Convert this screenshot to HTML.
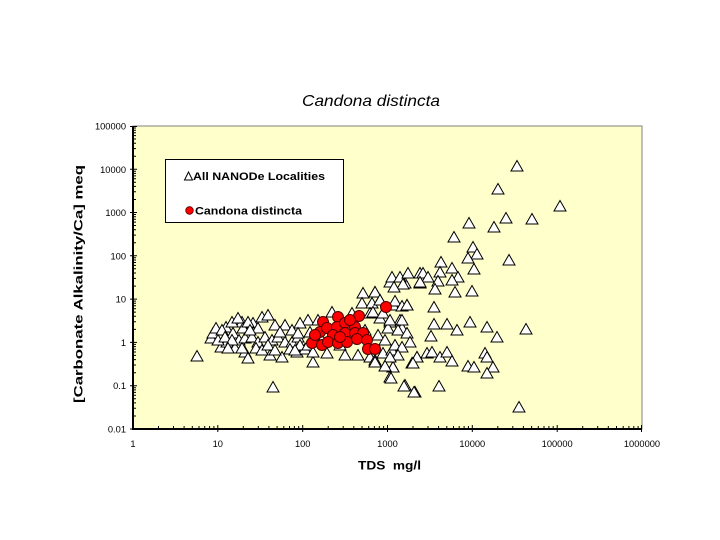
<!DOCTYPE html>
<html><head><meta charset="utf-8"><style>
html,body{margin:0;padding:0;background:#fff;}
svg{display:block;}
text{font-family:"Liberation Sans",Arial,sans-serif;}
</style></head><body>
<svg width="720" height="540" viewBox="0 0 720 540" xmlns="http://www.w3.org/2000/svg">
<defs>
<path id="t" d="M0,-5.5 L6,5 L-6,5 Z" fill="#fff" stroke="#000" stroke-width="1"/>
<circle id="c" r="5.5" fill="#ff0000" stroke="#500000" stroke-width="1"/>
</defs>
<rect x="133" y="126" width="509" height="303" fill="#ffffcc" stroke="#808080" stroke-width="1"/>
<text x="371" y="106" font-size="16" font-style="italic" text-anchor="middle" textLength="138" lengthAdjust="spacingAndGlyphs">Candona distincta</text>

<g>
<use href="#t" x="197" y="356"/><use href="#t" x="211" y="338"/><use href="#t" x="213" y="333"/><use href="#t" x="216" y="328"/>
<use href="#t" x="221" y="347"/><use href="#t" x="226" y="327"/><use href="#t" x="227" y="342"/><use href="#t" x="233" y="333"/>
<use href="#t" x="235" y="348"/><use href="#t" x="242" y="322"/><use href="#t" x="245" y="352"/><use href="#t" x="248" y="358"/>
<use href="#t" x="239" y="340"/><use href="#t" x="262" y="317"/><use href="#t" x="268" y="315"/><use href="#t" x="253" y="323"/>
<use href="#t" x="273" y="387"/><use href="#t" x="270" y="355"/><use href="#t" x="282" y="357"/><use href="#t" x="285" y="325"/>
<use href="#t" x="297" y="352"/><use href="#t" x="308" y="320"/><use href="#t" x="313" y="362"/><use href="#t" x="222" y="330"/>
<use href="#t" x="232" y="322"/><use href="#t" x="238" y="318"/><use href="#t" x="243" y="328"/><use href="#t" x="248" y="322"/>
<use href="#t" x="258" y="328"/><use href="#t" x="275" y="325"/><use href="#t" x="292" y="330"/><use href="#t" x="300" y="323"/>
<use href="#t" x="218" y="340"/><use href="#t" x="225" y="337"/><use href="#t" x="232" y="340"/><use href="#t" x="245" y="338"/>
<use href="#t" x="252" y="337"/><use href="#t" x="258" y="342"/><use href="#t" x="265" y="337"/><use href="#t" x="272" y="340"/>
<use href="#t" x="278" y="337"/><use href="#t" x="285" y="342"/><use href="#t" x="292" y="342"/><use href="#t" x="298" y="337"/>
<use href="#t" x="228" y="348"/><use href="#t" x="242" y="348"/><use href="#t" x="256" y="348"/><use href="#t" x="262" y="350"/>
<use href="#t" x="268" y="345"/><use href="#t" x="275" y="350"/><use href="#t" x="290" y="349"/><use href="#t" x="305" y="349"/>
<use href="#t" x="250" y="330"/><use href="#t" x="280" y="332"/><use href="#t" x="300" y="345"/>

<use href="#t" x="363" y="293"/><use href="#t" x="375" y="292"/><use href="#t" x="390" y="282"/><use href="#t" x="405" y="283"/>
<use href="#t" x="420" y="283"/><use href="#t" x="362" y="303"/><use href="#t" x="372" y="303"/><use href="#t" x="380" y="300"/>
<use href="#t" x="393" y="305"/><use href="#t" x="407" y="305"/><use href="#t" x="318" y="320"/><use href="#t" x="332" y="312"/>
<use href="#t" x="352" y="313"/><use href="#t" x="370" y="313"/><use href="#t" x="380" y="318"/><use href="#t" x="390" y="322"/>
<use href="#t" x="400" y="320"/><use href="#t" x="402" y="328"/><use href="#t" x="298" y="333"/><use href="#t" x="308" y="345"/>
<use href="#t" x="295" y="350"/><use href="#t" x="327" y="353"/><use href="#t" x="340" y="345"/><use href="#t" x="313" y="352"/>
<use href="#t" x="358" y="355"/><use href="#t" x="370" y="357"/><use href="#t" x="375" y="360"/><use href="#t" x="383" y="353"/>
<use href="#t" x="392" y="350"/><use href="#t" x="393" y="367"/><use href="#t" x="390" y="377"/><use href="#t" x="405" y="385"/>
<use href="#t" x="415" y="392"/><use href="#t" x="412" y="363"/><use href="#t" x="417" y="357"/><use href="#t" x="427" y="353"/>
<use href="#t" x="365" y="330"/><use href="#t" x="378" y="335"/><use href="#t" x="385" y="340"/><use href="#t" x="395" y="345"/>
<use href="#t" x="322" y="340"/><use href="#t" x="345" y="355"/><use href="#t" x="310" y="332"/><use href="#t" x="388" y="328"/>

<use href="#t" x="454" y="237"/><use href="#t" x="473" y="247"/><use href="#t" x="477" y="254"/><use href="#t" x="468" y="258"/>
<use href="#t" x="509" y="260"/><use href="#t" x="474" y="269"/><use href="#t" x="441" y="262"/><use href="#t" x="452" y="268"/>
<use href="#t" x="440" y="272"/><use href="#t" x="458" y="277"/><use href="#t" x="452" y="280"/><use href="#t" x="438" y="281"/>
<use href="#t" x="435" y="289"/><use href="#t" x="455" y="292"/><use href="#t" x="472" y="291"/><use href="#t" x="392" y="277"/>
<use href="#t" x="400" y="277"/><use href="#t" x="408" y="273"/><use href="#t" x="420" y="273"/><use href="#t" x="423" y="273"/>
<use href="#t" x="428" y="277"/><use href="#t" x="420" y="282"/><use href="#t" x="403" y="284"/><use href="#t" x="394" y="287"/>
<use href="#t" x="375" y="292"/><use href="#t" x="380" y="300"/><use href="#t" x="395" y="301"/><use href="#t" x="402" y="306"/>
<use href="#t" x="407" y="305"/><use href="#t" x="434" y="307"/><use href="#t" x="373" y="312"/><use href="#t" x="383" y="313"/>
<use href="#t" x="390" y="320"/><use href="#t" x="402" y="320"/><use href="#t" x="434" y="324"/><use href="#t" x="447" y="324"/>
<use href="#t" x="457" y="330"/><use href="#t" x="470" y="322"/><use href="#t" x="487" y="327"/><use href="#t" x="497" y="337"/>
<use href="#t" x="526" y="329"/><use href="#t" x="431" y="336"/><use href="#t" x="432" y="352"/><use href="#t" x="440" y="357"/>
<use href="#t" x="447" y="352"/><use href="#t" x="452" y="361"/><use href="#t" x="468" y="366"/><use href="#t" x="474" y="367"/>
<use href="#t" x="485" y="353"/><use href="#t" x="487" y="357"/><use href="#t" x="493" y="367"/><use href="#t" x="487" y="373"/>
<use href="#t" x="393" y="367"/><use href="#t" x="391" y="378"/><use href="#t" x="404" y="386"/><use href="#t" x="414" y="392"/>
<use href="#t" x="439" y="386"/><use href="#t" x="417" y="357"/><use href="#t" x="413" y="363"/><use href="#t" x="519" y="407"/>
<use href="#t" x="398" y="330"/><use href="#t" x="407" y="333"/><use href="#t" x="410" y="342"/><use href="#t" x="402" y="347"/>
<use href="#t" x="398" y="355"/><use href="#t" x="390" y="357"/><use href="#t" x="375" y="362"/><use href="#t" x="385" y="366"/>

<use href="#t" x="517" y="166"/><use href="#t" x="498" y="189"/><use href="#t" x="560" y="206"/><use href="#t" x="506" y="218"/>
<use href="#t" x="532" y="219"/><use href="#t" x="469" y="223"/><use href="#t" x="494" y="227"/>
</g>

<g>
<use href="#c" x="386" y="307"/><use href="#c" x="312" y="343"/><use href="#c" x="322" y="345"/><use href="#c" x="323" y="322"/>
<use href="#c" x="338" y="317"/><use href="#c" x="359" y="316"/><use href="#c" x="320" y="332"/><use href="#c" x="327" y="328"/>
<use href="#c" x="337" y="327"/><use href="#c" x="345" y="323"/><use href="#c" x="355" y="327"/><use href="#c" x="333" y="335"/>
<use href="#c" x="345" y="333"/><use href="#c" x="355" y="333"/><use href="#c" x="363" y="333"/><use href="#c" x="328" y="342"/>
<use href="#c" x="338" y="343"/><use href="#c" x="347" y="342"/><use href="#c" x="357" y="339"/><use href="#c" x="367" y="340"/>
<use href="#c" x="368" y="349"/><use href="#c" x="375" y="349"/><use href="#c" x="315" y="335"/><use href="#c" x="350" y="320"/>
<use href="#c" x="340" y="337"/>
</g>

<!-- legend -->
<rect x="165.5" y="159.5" width="178" height="63" fill="#fff" stroke="#000" stroke-width="1"/>
<path d="M188.5,172 L192.5,180 L184.5,180 Z" fill="#fff" stroke="#000" stroke-width="1"/>
<text x="193" y="180" font-size="11" font-weight="bold" textLength="132" lengthAdjust="spacingAndGlyphs">All NANODe Localities</text>
<circle cx="189.5" cy="210.5" r="3.8" fill="#ff0000" stroke="#500000" stroke-width="0.8"/>
<text x="195" y="214.5" font-size="11" font-weight="bold" textLength="107" lengthAdjust="spacingAndGlyphs">Candona distincta</text>

<!-- axes -->
<line x1="133" y1="126" x2="133" y2="430" stroke="#000" stroke-width="2"/>
<line x1="132" y1="429" x2="642" y2="429" stroke="#000" stroke-width="2"/>
<path stroke="#000" stroke-width="1" fill="none" d="
M130,429h7 M130,385.7h7 M130,342.4h7 M130,299.1h7 M130,255.8h7 M130,212.5h7 M130,169.3h7 M130,126.5h7
M133,416h3 M133,408.3h3 M133,402.9h3 M133,398.7h3 M133,395.3h3 M133,392.4h3 M133,389.9h3 M133,387.7h3
M133,372.7h3 M133,365h3 M133,359.6h3 M133,355.4h3 M133,352h3 M133,349.1h3 M133,346.6h3 M133,344.4h3
M133,329.4h3 M133,321.7h3 M133,316.3h3 M133,312.1h3 M133,308.7h3 M133,305.8h3 M133,303.3h3 M133,301.1h3
M133,286.1h3 M133,278.4h3 M133,273h3 M133,268.8h3 M133,265.4h3 M133,262.5h3 M133,260h3 M133,257.8h3
M133,242.8h3 M133,235.1h3 M133,229.7h3 M133,225.5h3 M133,222.1h3 M133,219.2h3 M133,216.7h3 M133,214.5h3
M133,199.5h3 M133,191.8h3 M133,186.4h3 M133,182.2h3 M133,178.8h3 M133,175.9h3 M133,173.4h3 M133,171.2h3
M133,156.3h3 M133,148.6h3 M133,143.2h3 M133,139h3 M133,135.6h3 M133,132.7h3 M133,130.2h3 M133,128h3
M217.8,432v-7 M302.7,432v-7 M387.5,432v-7 M472.3,432v-7 M557.2,432v-7 M641.5,432v-7
M158.5,429v-3 M173.5,429v-3 M184.1,429v-3 M192.3,429v-3 M199,429v-3 M204.7,429v-3 M209.6,429v-3 M213.9,429v-3
M243.3,429v-3 M258.3,429v-3 M268.9,429v-3 M277.1,429v-3 M283.8,429v-3 M289.5,429v-3 M294.4,429v-3 M298.7,429v-3
M328.2,429v-3 M343.2,429v-3 M353.8,429v-3 M362,429v-3 M368.7,429v-3 M374.4,429v-3 M379.3,429v-3 M383.6,429v-3
M413,429v-3 M428,429v-3 M438.6,429v-3 M446.8,429v-3 M453.5,429v-3 M459.2,429v-3 M464.1,429v-3 M468.4,429v-3
M497.8,429v-3 M512.8,429v-3 M523.4,429v-3 M531.6,429v-3 M538.3,429v-3 M544,429v-3 M548.9,429v-3 M553.2,429v-3
M582.7,429v-3 M597.7,429v-3 M608.3,429v-3 M616.5,429v-3 M623.2,429v-3 M628.9,429v-3 M633.8,429v-3 M638.1,429v-3"/>

<g font-size="9.3" text-anchor="end">
<text x="126" y="129.5">100000</text>
<text x="126" y="172.8">10000</text>
<text x="126" y="216">1000</text>
<text x="126" y="259.3">100</text>
<text x="126" y="302.6">10</text>
<text x="126" y="345.9">1</text>
<text x="126" y="389.2">0.1</text>
<text x="126" y="432.5">0.01</text>
</g>
<g font-size="9.3" text-anchor="middle">
<text x="133" y="447">1</text>
<text x="217.8" y="447">10</text>
<text x="302.7" y="447">100</text>
<text x="387.5" y="447">1000</text>
<text x="472.3" y="447">10000</text>
<text x="557.2" y="447">100000</text>
<text x="642" y="447">1000000</text>
</g>

<text x="358" y="469.5" font-size="12" font-weight="bold" textLength="63" lengthAdjust="spacingAndGlyphs" xml:space="preserve">TDS  mg/l</text>
<text transform="translate(82.5,284) rotate(-90)" x="0" y="0" font-size="12" font-weight="bold" text-anchor="middle" textLength="238" lengthAdjust="spacingAndGlyphs">[Carbonate Alkalinity/Ca] meq</text>
</svg>
</body></html>
